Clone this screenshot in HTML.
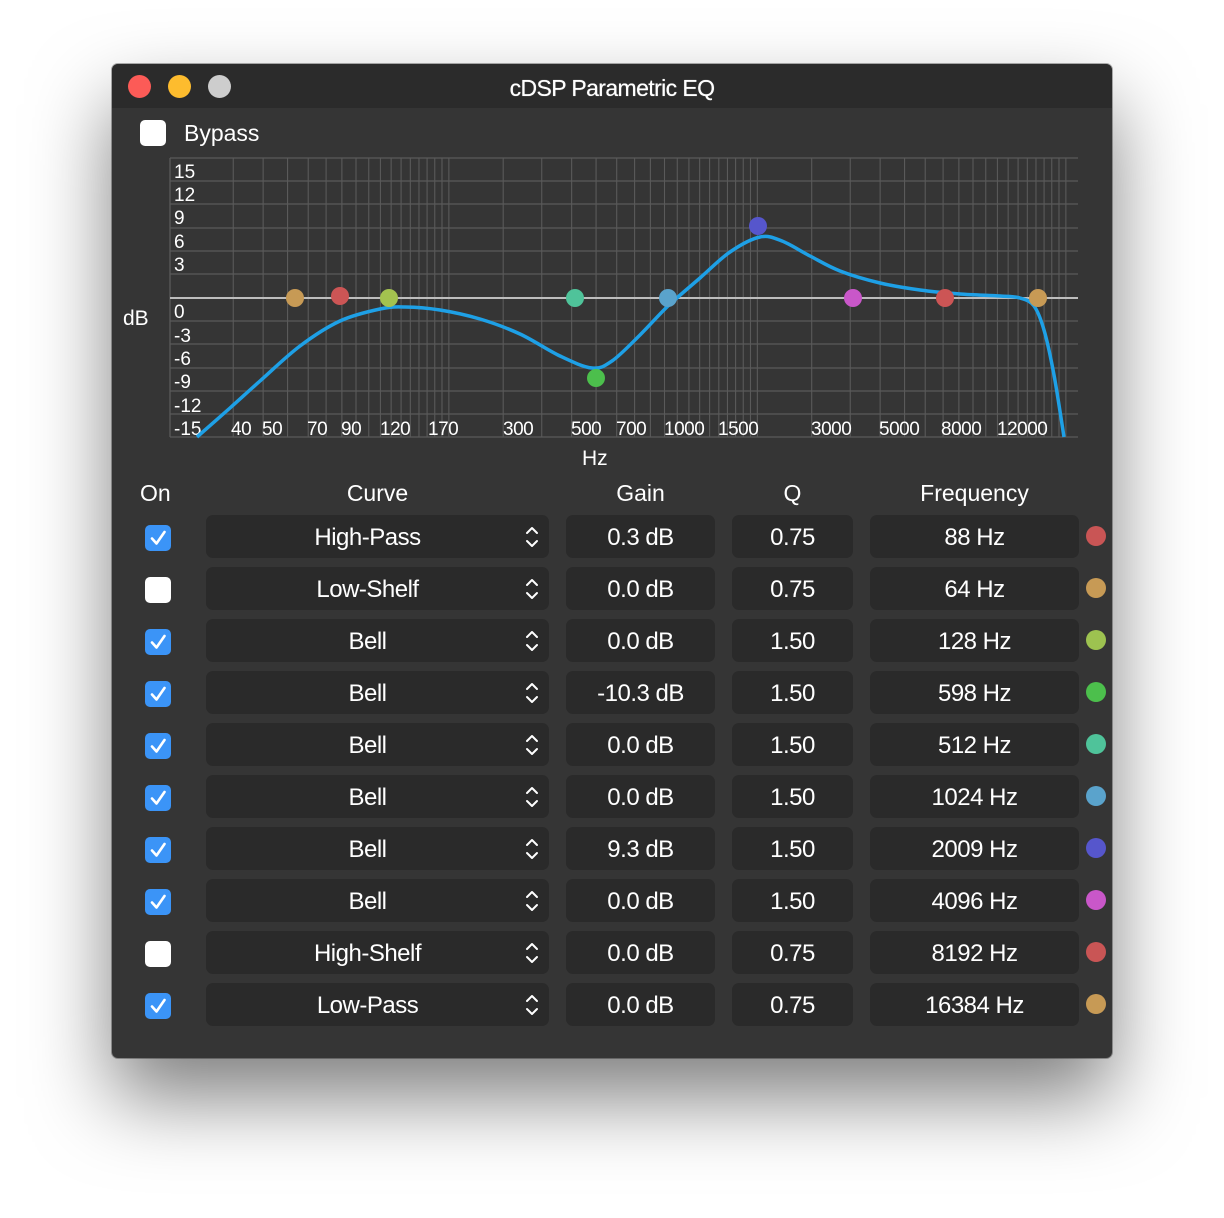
<!DOCTYPE html>
<html><head><meta charset="utf-8">
<style>
html,body{margin:0;padding:0;background:#fff;width:1224px;height:1218px;overflow:hidden;font-family:"Liberation Sans",sans-serif;}
#win{position:absolute;left:112px;top:64px;width:1000px;height:994px;background:#353535;border-radius:6px;box-shadow:0 40px 80px rgba(0,0,0,0.5),0 0 0 1px rgba(0,0,0,0.3);overflow:hidden;}
#tb{position:absolute;left:0;top:0;width:1000px;height:44px;background:#2b2b2b;}
.light{position:absolute;top:11px;width:23px;height:23px;border-radius:50%;}
.t{position:absolute;color:#fff;white-space:nowrap;}
.box{position:absolute;background:#2a2a2a;border-radius:7px;height:43px;color:#fff;font-size:24px;line-height:45px;text-align:center;letter-spacing:-0.5px;}
.cb{position:absolute;width:26px;height:26px;border-radius:5px;}
.on{background:#3b94f7;}
.off{background:#fff;}
.dot{position:absolute;width:20px;height:20px;border-radius:50%;}
</style></head><body>
<div id="win">
<div id="tb">
<div class="light" style="left:16px;background:#fc5b57"></div>
<div class="light" style="left:56px;background:#fdbc2e"></div>
<div class="light" style="left:96px;background:#cdcdcd"></div>
<div class="t" style="left:0;width:1000px;text-align:center;top:11px;font-size:23px;letter-spacing:-0.6px;text-shadow:0 0 0.6px #fff;">cDSP Parametric EQ</div>
</div>
<div class="cb off" style="left:28px;top:56px;"></div>
<div class="t" style="left:72px;top:56px;font-size:23px;">Bypass</div>
</div>
<svg id="chart" width="1224" height="480" style="position:absolute;left:0;top:0" xmlns="http://www.w3.org/2000/svg"></svg>
<div id="tbl"></div>
<script>
var s=document.getElementById('chart'),h='';
function X(f){return 664.5+308.5*Math.log10(f/1000);}
var ys=[158,181,204,228,251,274,298,321,344,368,391,414,437];
ys.forEach(function(y,i){ if(i!=6) h+='<line x1="170" x2="1078" y1="'+y+'" y2="'+y+'" stroke="#5a5a5a" stroke-width="1.3"/>';});
var fs=[];
for(var f=40;f<=200;f+=10)fs.push(f);
for(f=300;f<=1000;f+=100)fs.push(f);
for(f=1100;f<=2000;f+=100)fs.push(f);
for(f=3000;f<=20000;f+=1000)fs.push(f);
h+='<line x1="170" x2="170" y1="158" y2="437" stroke="#5a5a5a" stroke-width="1.3"/>';
fs.forEach(function(f){var x=X(f);h+='<line x1="'+x+'" x2="'+x+'" y1="158" y2="437" stroke="#5a5a5a" stroke-width="1.1"/>';});
h+='<line x1="170" x2="1078" y1="298" y2="298" stroke="#bdbdbd" stroke-width="2"/>';
var yl=[['15',178],['12',201],['9',224],['6',248],['3',271],['0',318],['-3',342],['-6',365],['-9',388],['-12',412],['-15',435]];
yl.forEach(function(a){h+='<text x="174" y="'+a[1]+'" fill="#fff" font-size="19" font-family="Liberation Sans,sans-serif">'+a[0]+'</text>';});
h+='<text x="123" y="325" fill="#fff" font-size="21" font-family="Liberation Sans,sans-serif">dB</text>';
var xl=[['40',231],['50',262],['70',307],['90',341],['120',380],['170',428],['300',503],['500',571],['700',616],['1000',664],['1500',718],['3000',811],['5000',879],['8000',941],['12000',997]];
xl.forEach(function(a){h+='<text x="'+a[1]+'" y="435" fill="#fff" font-size="19" font-family="Liberation Sans,sans-serif" letter-spacing="-0.5">'+a[0]+'</text>';});
h+='<text x="582" y="465" fill="#fff" font-size="21" font-family="Liberation Sans,sans-serif">Hz</text>';
var p=[[197,437],[230,408],[260,381],[300,346],[340,321],[380,309],[405,307],[440,310],[480,319],[520,334],[560,356],[592,368],[612,361],[640,335],[668,306],[700,278],[730,252],[760,237],[782,241],[810,256],[840,271],[880,283],[920,290],[960,294],[1000,296],[1020,298],[1034,306],[1044,330],[1054,375],[1064,437]];
var d='M'+p[0][0]+','+p[0][1];
for(var i=0;i<p.length-1;i++){var p0=p[Math.max(i-1,0)],p1=p[i],p2=p[i+1],p3=p[Math.min(i+2,p.length-1)];
d+=' C'+(p1[0]+(p2[0]-p0[0])/6)+','+(p1[1]+(p2[1]-p0[1])/6)+' '+(p2[0]-(p3[0]-p1[0])/6)+','+(p2[1]-(p3[1]-p1[1])/6)+' '+p2[0]+','+p2[1];}
h+='<path d="'+d+'" fill="none" stroke="#1ea0e6" stroke-width="3.5"/>';
var dots=[[295,298,'#c79a55'],[340,296,'#cc5555'],[389,298,'#a3c24f'],[575,298,'#4fc39a'],[596,378,'#4cbf4c'],[668,298,'#5aa3cc'],[758,226,'#5656cc'],[853,298,'#c957c9'],[945,298,'#cc5555'],[1038,298,'#c79a55']];
dots.forEach(function(a){h+='<circle cx="'+a[0]+'" cy="'+a[1]+'" r="9" fill="'+a[2]+'"/>';});
s.innerHTML=h;
var hdr=[['On',140,171],['Curve',206,549],['Gain',566,715],['Q',732,853],['Frequency',870,1079]];
var t='';
hdr.forEach(function(a){if(a[0]=='On')t+='<div class="t" style="left:140px;top:480px;font-size:23px;">On</div>';else t+='<div class="t" style="left:'+a[1]+'px;width:'+(a[2]-a[1])+'px;text-align:center;top:480px;font-size:23px;">'+a[0]+'</div>';});
var rows=[[1,'High-Pass','0.3 dB','0.75','88 Hz','#c95555'],[0,'Low-Shelf','0.0 dB','0.75','64 Hz','#c79a55'],[1,'Bell','0.0 dB','1.50','128 Hz','#9dc250'],[1,'Bell','-10.3 dB','1.50','598 Hz','#4cbf4c'],[1,'Bell','0.0 dB','1.50','512 Hz','#4fc39a'],[1,'Bell','0.0 dB','1.50','1024 Hz','#5aa3cc'],[1,'Bell','9.3 dB','1.50','2009 Hz','#5656cc'],[1,'Bell','0.0 dB','1.50','4096 Hz','#c957c9'],[0,'High-Shelf','0.0 dB','0.75','8192 Hz','#c95555'],[1,'Low-Pass','0.0 dB','0.75','16384 Hz','#c79a55']];
var chk='<svg width="26" height="26" style="position:absolute;left:0;top:0"><path d="M7 13.5 L11.5 18.5 L19.5 7" fill="none" stroke="#fff" stroke-width="2.6" stroke-linecap="round" stroke-linejoin="round"/></svg>';
var arr='<svg width="14" height="26" style="position:absolute;right:10px;top:9px"><path d="M2 9 L7 4 L12 9 M2 17 L7 22 L12 17" fill="none" stroke="#fff" stroke-width="2" stroke-linecap="round" stroke-linejoin="round"/></svg>';
rows.forEach(function(r,i){var y=515+i*52;
t+='<div class="cb '+(r[0]?'on':'off')+'" style="left:145px;top:'+(y+10)+'px">'+(r[0]?chk:'')+'</div>';
t+='<div class="box" style="left:206px;top:'+y+'px;width:343px;"><span style="position:relative;left:-10px">'+r[1]+'</span>'+arr+'</div>';
t+='<div class="box" style="left:566px;top:'+y+'px;width:149px;">'+r[2]+'</div>';
t+='<div class="box" style="left:732px;top:'+y+'px;width:121px;">'+r[3]+'</div>';
t+='<div class="box" style="left:870px;top:'+y+'px;width:209px;">'+r[4]+'</div>';
t+='<div class="dot" style="left:1086px;top:'+(y+11)+'px;background:'+r[5]+'"></div>';});
document.getElementById('tbl').innerHTML=t;
</script>
</body></html>
